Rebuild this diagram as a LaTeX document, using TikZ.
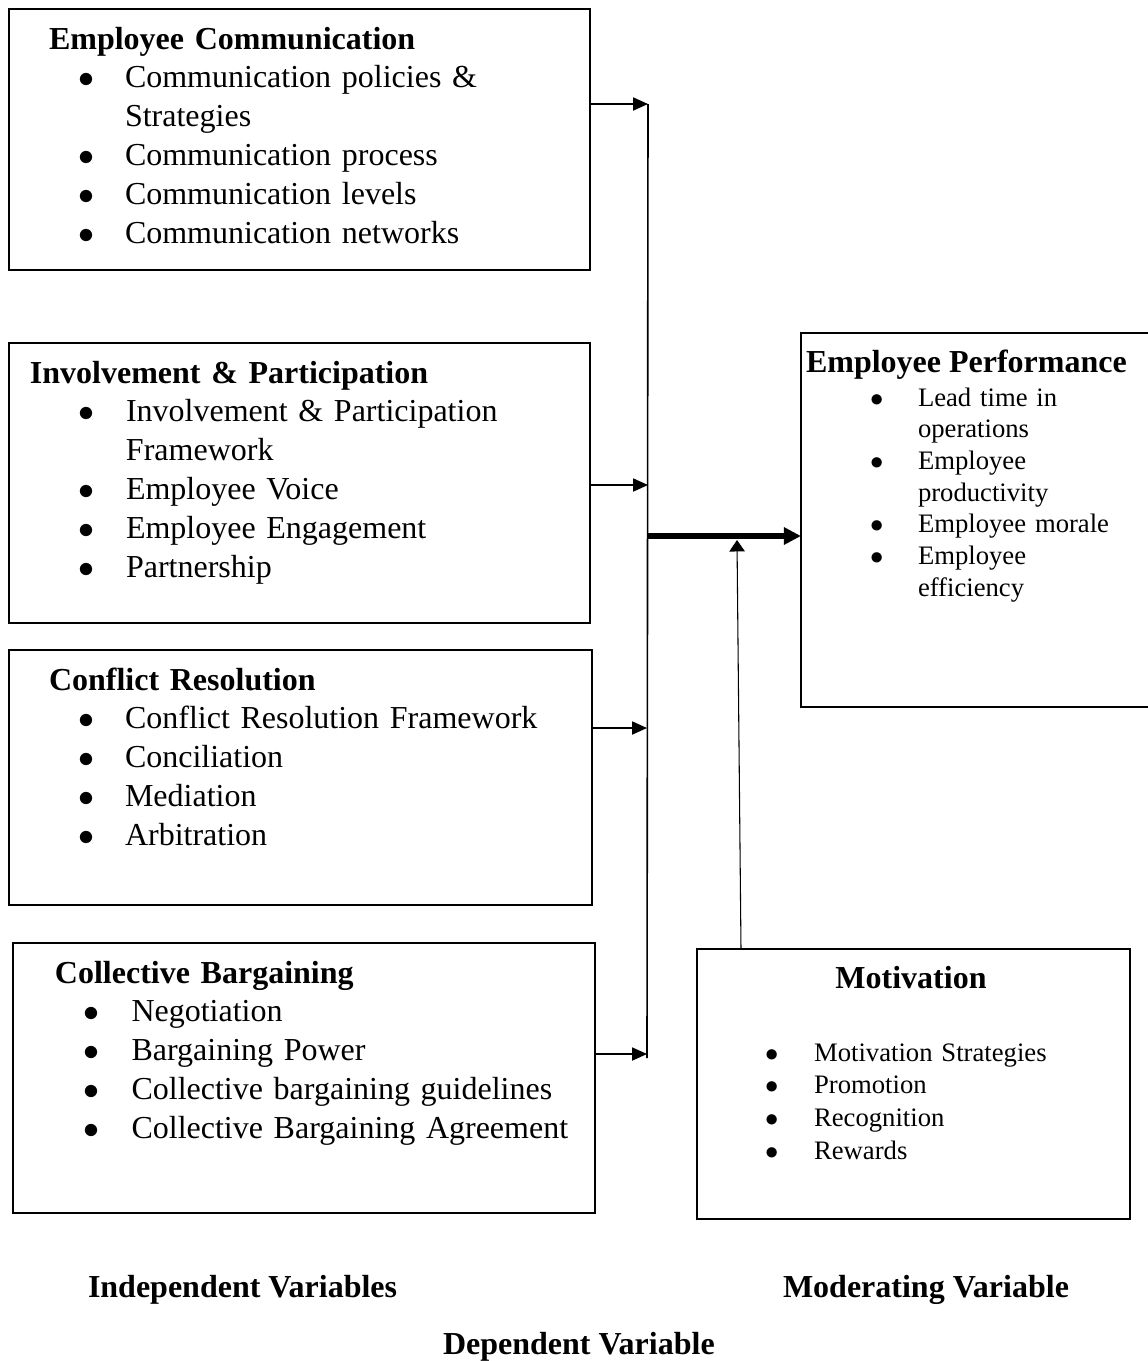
\documentclass[tikz,border=0pt]{standalone}
\usepackage{fontspec}
\setmainfont{Liberation Serif}
\usetikzlibrary{arrows.meta,positioning,fit}

% bullet lists inside the boxes
\newlength\bulpos
\newlength\txtpos
\newcommand{\topstrut}{\rule{0pt}{9pt}}
\newcommand{\ttl}[1]{\noindent\topstrut\textbf{#1}\par}
\newcommand{\bi}[1]{\noindent\hangindent=\txtpos\hangafter=1\topstrut\makebox[\txtpos][l]{\hspace*{\bulpos}$\bullet$}#1\par}

\begin{document}
\begin{tikzpicture}[
    x=0.375pt, y=-0.375pt,
    every node/.style={font=\fontsize{12}{14.6}\selectfont, inner sep=0pt, outer sep=0pt},
    box/.style={draw, line width=0.75pt, fit={#1}},
    txt/.style={anchor=north west, text width=205pt},
    head/.style={font=\fontsize{12}{14.6}\selectfont\bfseries},
    arr/.style={line width=0.6pt, -{Triangle[length=5.6pt,width=4.9pt]}},
    mainarr/.style={line width=2.2pt, -{Triangle[length=6.4pt,width=6.2pt]}},
    modarr/.style={line width=0.4pt, -{Triangle[length=4.3pt,width=5.8pt]}}
]
\useasboundingbox (0,0) rectangle (1147,1361);

% Independent variables
\node[box={(9,9) (590,270)}] (comm) {};
\node[txt] (commtxt) at (49,25) {\setlength\bulpos{11.1pt}\setlength\txtpos{28.5pt}%
    \ttl{Employee Communication}
    \bi{Communication policies \&\newline Strategies}
    \bi{Communication process}
    \bi{Communication levels}
    \bi{Communication networks}};

\node[box={(9,343) (590,623)}] (invol) {};
\node[txt] (involtxt) at (30,359) {\setlength\bulpos{18.2pt}\setlength\txtpos{36pt}%
    \ttl{Involvement \& Participation}
    \bi{Involvement \& Participation\newline Framework}
    \bi{Employee Voice}
    \bi{Employee Engagement}
    \bi{Partnership}};

\node[box={(9,650) (592,905)}] (confl) {};
\node[txt] (confltxt) at (49,666) {\setlength\bulpos{11.1pt}\setlength\txtpos{28.5pt}%
    \ttl{Conflict Resolution}
    \bi{Conflict Resolution Framework}
    \bi{Conciliation}
    \bi{Mediation}
    \bi{Arbitration}};

\node[box={(13,943) (595,1213)}] (barg) {};
\node[txt] (bargtxt) at (55,959) {\setlength\bulpos{10.5pt}\setlength\txtpos{28.7pt}%
    \ttl{Collective Bargaining}
    \bi{Negotiation}
    \bi{Bargaining Power}
    \bi{Collective bargaining guidelines}
    \bi{Collective Bargaining Agreement}};

% Dependent variable
\node[box={(801,333) (1152,707)}] (perf) {};
\node[head, anchor=base west] (perftitle) at (806,372) {Employee Performance};
\node[txt, text width=100pt, font=\fontsize{10}{11.9}\selectfont] (perflist) at (870,382)
    {\setlength\bulpos{0pt}\setlength\txtpos{18pt}%
    \bi{Lead time in\newline operations}
    \bi{Employee\newline productivity}
    \bi{Employee morale}
    \bi{Employee\newline efficiency}};

% Moderating variable
\node[box={(697,949) (1130,1219)}] (motiv) {};
\node[head, anchor=base] (motivtitle) at (911,988) {Motivation};
\node[txt, text width=120pt, font=\fontsize{10}{12.25}\selectfont] (motivlist) at (765,1037)
    {\setlength\bulpos{0pt}\setlength\txtpos{18.4pt}%
    \bi{Motivation Strategies}
    \bi{Promotion}
    \bi{Recognition}
    \bi{Rewards}};

% Captions
\node[head, anchor=base west] (indep) at (88,1297) {Independent Variables};
\node[head, anchor=base west] (moder) at (783,1297) {Moderating Variable};
\node[head, anchor=base west] (depen) at (443,1354) {Dependent Variable};

% Collecting line and arrows
\coordinate (b1) at (648,104);
\coordinate (b2) at (648,485);
\coordinate (b3) at (647,728);
\coordinate (b4) at (647,1054);
\coordinate (b5) at (648,536);
\coordinate (busend) at (647,1058);
\draw[line width=0.6pt] (b1) -- (busend);
\foreach \src/\dst in {comm/b1, invol/b2, confl/b3, barg/b4} {
    \draw[arr] (\src.east |- \dst) -- (\dst);
}
\draw[mainarr] (b5) -- (perf.west |- b5);

% Moderating arrow
\coordinate (mfoot) at (741,0);
\coordinate (mtip) at (737,540);
\draw[modarr] (motiv.north -| mfoot) -- (mtip);

\end{tikzpicture}
\end{document}
